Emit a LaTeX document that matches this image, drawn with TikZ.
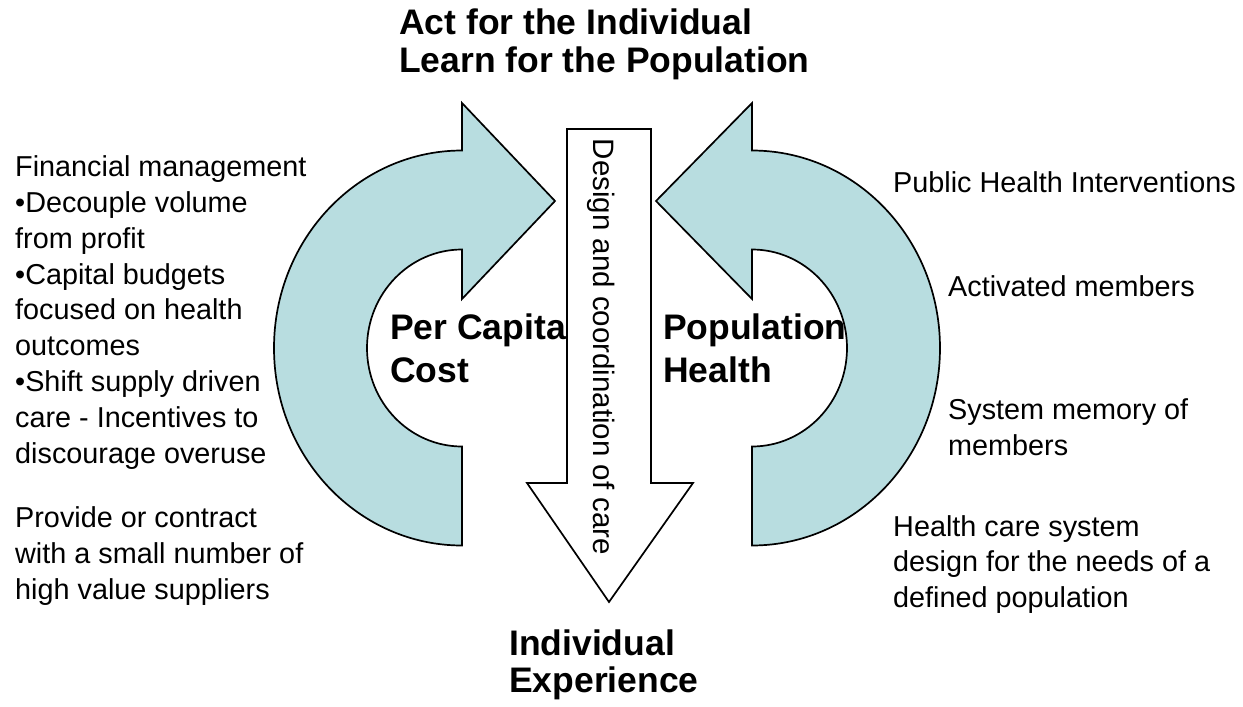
\documentclass[tikz,border=0pt]{standalone}
\usepackage{fontspec}
\setmainfont{Liberation Sans}
\usepackage{tikz}

\definecolor{loopblue}{RGB}{184,221,224}

\tikzset{
  loop/.style={fill=loopblue,draw=black,line width=1.7pt,line join=miter},
  shaft/.style={fill=white,draw=black,line width=1.7pt,line join=miter},
  plain/.style={font=\fontsize{28.8}{35.8}\selectfont,align=left,inner sep=0pt,anchor=base west},
  heavy/.style={font=\fontsize{35.5}{38}\selectfont\bfseries,align=left,inner sep=0pt,anchor=base west}
}

\begin{document}
\begin{tikzpicture}[x=1pt,y=-1pt]
\useasboundingbox (0,0) rectangle (1243,707);

\draw[loop] (462,103) -- (555,201) -- (462,299) -- (462,249.5)
  arc[start angle=-90,end angle=-270,x radius=95,y radius=98.5] -- (462,545.5)
  arc[start angle=90,end angle=270,x radius=188,y radius=197.5] -- cycle;
\draw[loop] (752,103) -- (656,201) -- (752,299) -- (752,249.5)
  arc[start angle=-90,end angle=90,x radius=95,y radius=98.5] -- (752,545.5)
  arc[start angle=90,end angle=-90,x radius=188,y radius=197.5] -- cycle;

\draw[shaft] (567,129) -- (651,129) -- (651,483) -- (693,483) -- (609,602) -- (527,483) -- (567,483) -- cycle;
\node[rotate=-90,anchor=base,inner sep=0pt,font=\fontsize{29.5}{35}\selectfont] (design) at (593,347) {Design and coordination of care};

% base anchor sits on the last line
\node[heavy] (title) at (399,72) {Act for the Individual\\Learn for the Population};
\node[heavy,font=\fontsize{35.5}{43}\selectfont\bfseries] (cost) at (390,382) {Per Capita\\Cost};
\node[heavy,font=\fontsize{35.5}{43}\selectfont\bfseries] (health) at (663,382) {Population\\Health};
\node[heavy,font=\fontsize{35.5}{37}\selectfont\bfseries] (experience) at (509,692) {Individual\\Experience};

\node[plain] (finance) at (15,463) {Financial management\\•Decouple volume\\from profit\\•Capital budgets\\focused on health\\outcomes\\•Shift supply driven\\care - Incentives to\\discourage overuse};
\node[plain,font=\fontsize{28.8}{36}\selectfont] (suppliers) at (15,599) {Provide or contract\\with a small number of\\high value suppliers};

\node[plain] (public) at (893,192) {Public Health Interventions};
\node[plain] (members) at (948,296) {Activated members};
\node[plain,font=\fontsize{28.8}{35.5}\selectfont] (memory) at (948,455) {System memory of\\members};
\node[plain,font=\fontsize{28.8}{35.5}\selectfont] (system) at (893,607) {Health care system\\design for the needs of a\\defined population};
\end{tikzpicture}
\end{document}
